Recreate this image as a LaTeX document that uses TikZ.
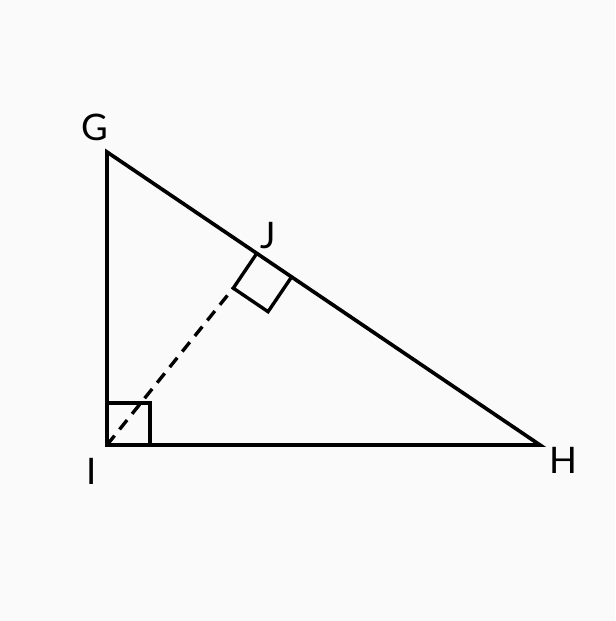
\documentclass[tikz,border=0pt]{standalone}
\usepackage{fontspec}
\setmainfont{Lato}
\usetikzlibrary{calc}
\tikzset{
  side/.style={line width=2.6pt, line join=miter},
  alt/.style={line width=2.4pt, dash pattern=on 0.3cm off 0.2cm},
  rmark/.style={line width=2.4pt, line join=miter},
  lbl/.style={font=\fontsize{26}{30}\selectfont, inner sep=0pt}
}
\begin{document}
\begin{tikzpicture}[x=1cm,y=1cm]
  \fill[black!2] (0,0) rectangle (15.375,-15.525);
  \useasboundingbox (0,0) rectangle (15.375,-15.525);

  \coordinate (G) at (2.675,-3.8);
  \coordinate (I) at (2.675,-11.125);
  \coordinate (H) at (13.5,-11.125);
  \coordinate (J) at ($(G)!0.346!(H)$);

  % right angle corners
  \coordinate (Jh) at ($(J)!1.05cm!(H)$);
  \coordinate (Jk) at ($(J)!1.05cm!-90:(H)$);
  \coordinate (Jd) at ($(Jk)+(Jh)-(J)$);

  \node[lbl] (lG) at (2.375,-3.175) {G};
  \node[lbl] (lJ) at (6.7,-5.9) {J};
  \node[lbl] (lI) at (2.3,-11.775) {I};
  \node[lbl] (lH) at (14.075,-11.5) {H};

  \draw[side] (I) -- (G) -- (H) -- cycle;
  \draw[alt] (I) -- (Jk);

  \draw[rmark] (J) -- (Jk) -- (Jd) -- (Jh);
  \draw[rmark] ($(I)+(0,1.05)$) -- ++(1.075,0) -- ++(0,-1.05);
\end{tikzpicture}
\end{document}
